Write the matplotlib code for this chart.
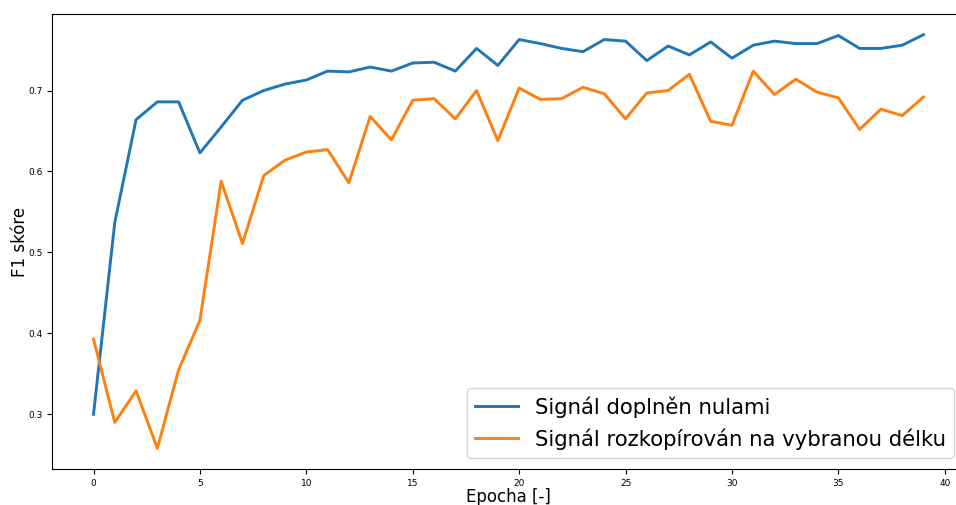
import matplotlib
matplotlib.use("Agg")
import matplotlib.pyplot as plt

epochs = list(range(40))

zero_padded = [0.300, 0.537, 0.664, 0.686, 0.686, 0.623, 0.655, 0.688, 0.700, 0.708,
               0.713, 0.724, 0.723, 0.729, 0.724, 0.734, 0.735, 0.724, 0.752, 0.731,
               0.763, 0.758, 0.752, 0.748, 0.763, 0.761, 0.737, 0.755, 0.744, 0.760,
               0.740, 0.756, 0.761, 0.758, 0.758, 0.768, 0.752, 0.752, 0.756, 0.769]

repeated = [0.393, 0.290, 0.329, 0.258, 0.355, 0.416, 0.588, 0.511, 0.595, 0.614,
            0.624, 0.627, 0.586, 0.668, 0.639, 0.688, 0.690, 0.665, 0.700, 0.638,
            0.703, 0.689, 0.690, 0.704, 0.696, 0.665, 0.697, 0.700, 0.720, 0.662,
            0.657, 0.724, 0.695, 0.714, 0.698, 0.691, 0.652, 0.677, 0.669, 0.692]

labels = ["Signál doplněn nulami", "Signál rozkopírován na vybranou délku"]

fig = plt.figure(figsize=(9.56, 5.05), dpi=100)
# the original image is cropped on the right, so the axes run past the edge
ax = fig.add_axes([52 / 956, 36 / 505, 913 / 956, 455 / 505])

ax.plot(epochs, zero_padded, label=labels[0], linewidth=2.1, color="#1f77b4")
ax.plot(epochs, repeated, label=labels[1], linewidth=2.1, color="#ff7f0e")

ax.set_xlabel("Epocha [-]", fontsize=12, labelpad=0)
ax.set_ylabel("F1 skóre", fontsize=12, labelpad=-1)
ax.tick_params(labelsize=6.5)
ax.legend(fontsize=15.3, loc="lower right")

fig.savefig("out.png", dpi=100)
